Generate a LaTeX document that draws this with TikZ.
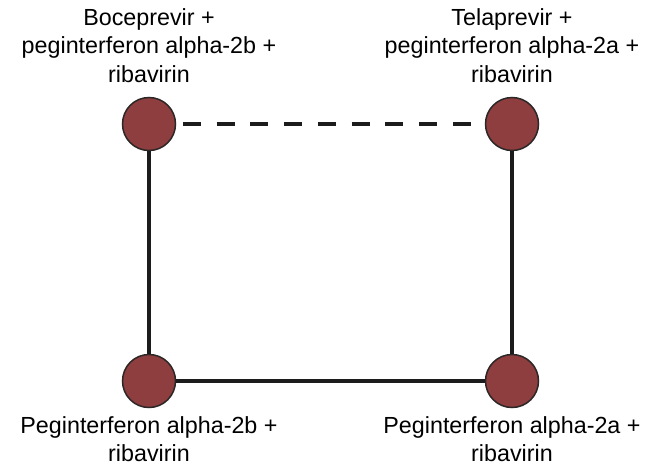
\documentclass[tikz,border=0pt]{standalone}
\usepackage{fontspec}
\setmainfont{Liberation Sans}
\usepackage{tikz}
\usetikzlibrary{positioning}

\definecolor{drugred}{RGB}{142,62,62}
\definecolor{rimgray}{RGB}{45,38,38}
\definecolor{linkgray}{RGB}{28,28,28}

\begin{document}
\begin{tikzpicture}[x=1pt, y=-1pt,
		arm/.style={circle, draw=rimgray, line width=1.5pt, fill=drugred,
			minimum size=53pt, inner sep=0pt},
		caption/.style={align=center, inner sep=0pt,
			font=\fontsize{23.3}{28.5}\selectfont},
		link/.style={draw=linkgray, line width=4pt},
		indirect/.style={link, dash pattern=on 18pt off 15.75pt, shorten <=6.5pt}]
		
		\useasboundingbox (0,0) rectangle (648,466);
		
		% the four treatment arms
		\node[arm] (Boc) at (149,124) {};
		\node[arm] (Tel) at (512,124) {};
		\node[arm] (PegB) at (149,381) {};
		\node[arm] (PegA) at (512,381) {};
		
		\node[caption, above=14pt of Boc] (BocText)
			{Boceprevir +\\peginterferon alpha-2b +\\ribavirin};
		\node[caption, above=14pt of Tel] (TelText)
			{Telaprevir +\\peginterferon alpha-2a +\\ribavirin};
		\node[caption, below=8pt of PegB] (PegBText)
			{Peginterferon alpha-2b +\\ribavirin};
		\node[caption, below=8pt of PegA] (PegAText)
			{Peginterferon alpha-2a +\\ribavirin};
		
		% direct comparisons solid, indirect one dashed
		\draw[link] (Boc) -- (PegB);
		\draw[link] (PegB) -- (PegA);
		\draw[link] (PegA) -- (Tel);
		\draw[indirect] (Boc) -- (Tel);
		
		\end{tikzpicture}
\end{document}
